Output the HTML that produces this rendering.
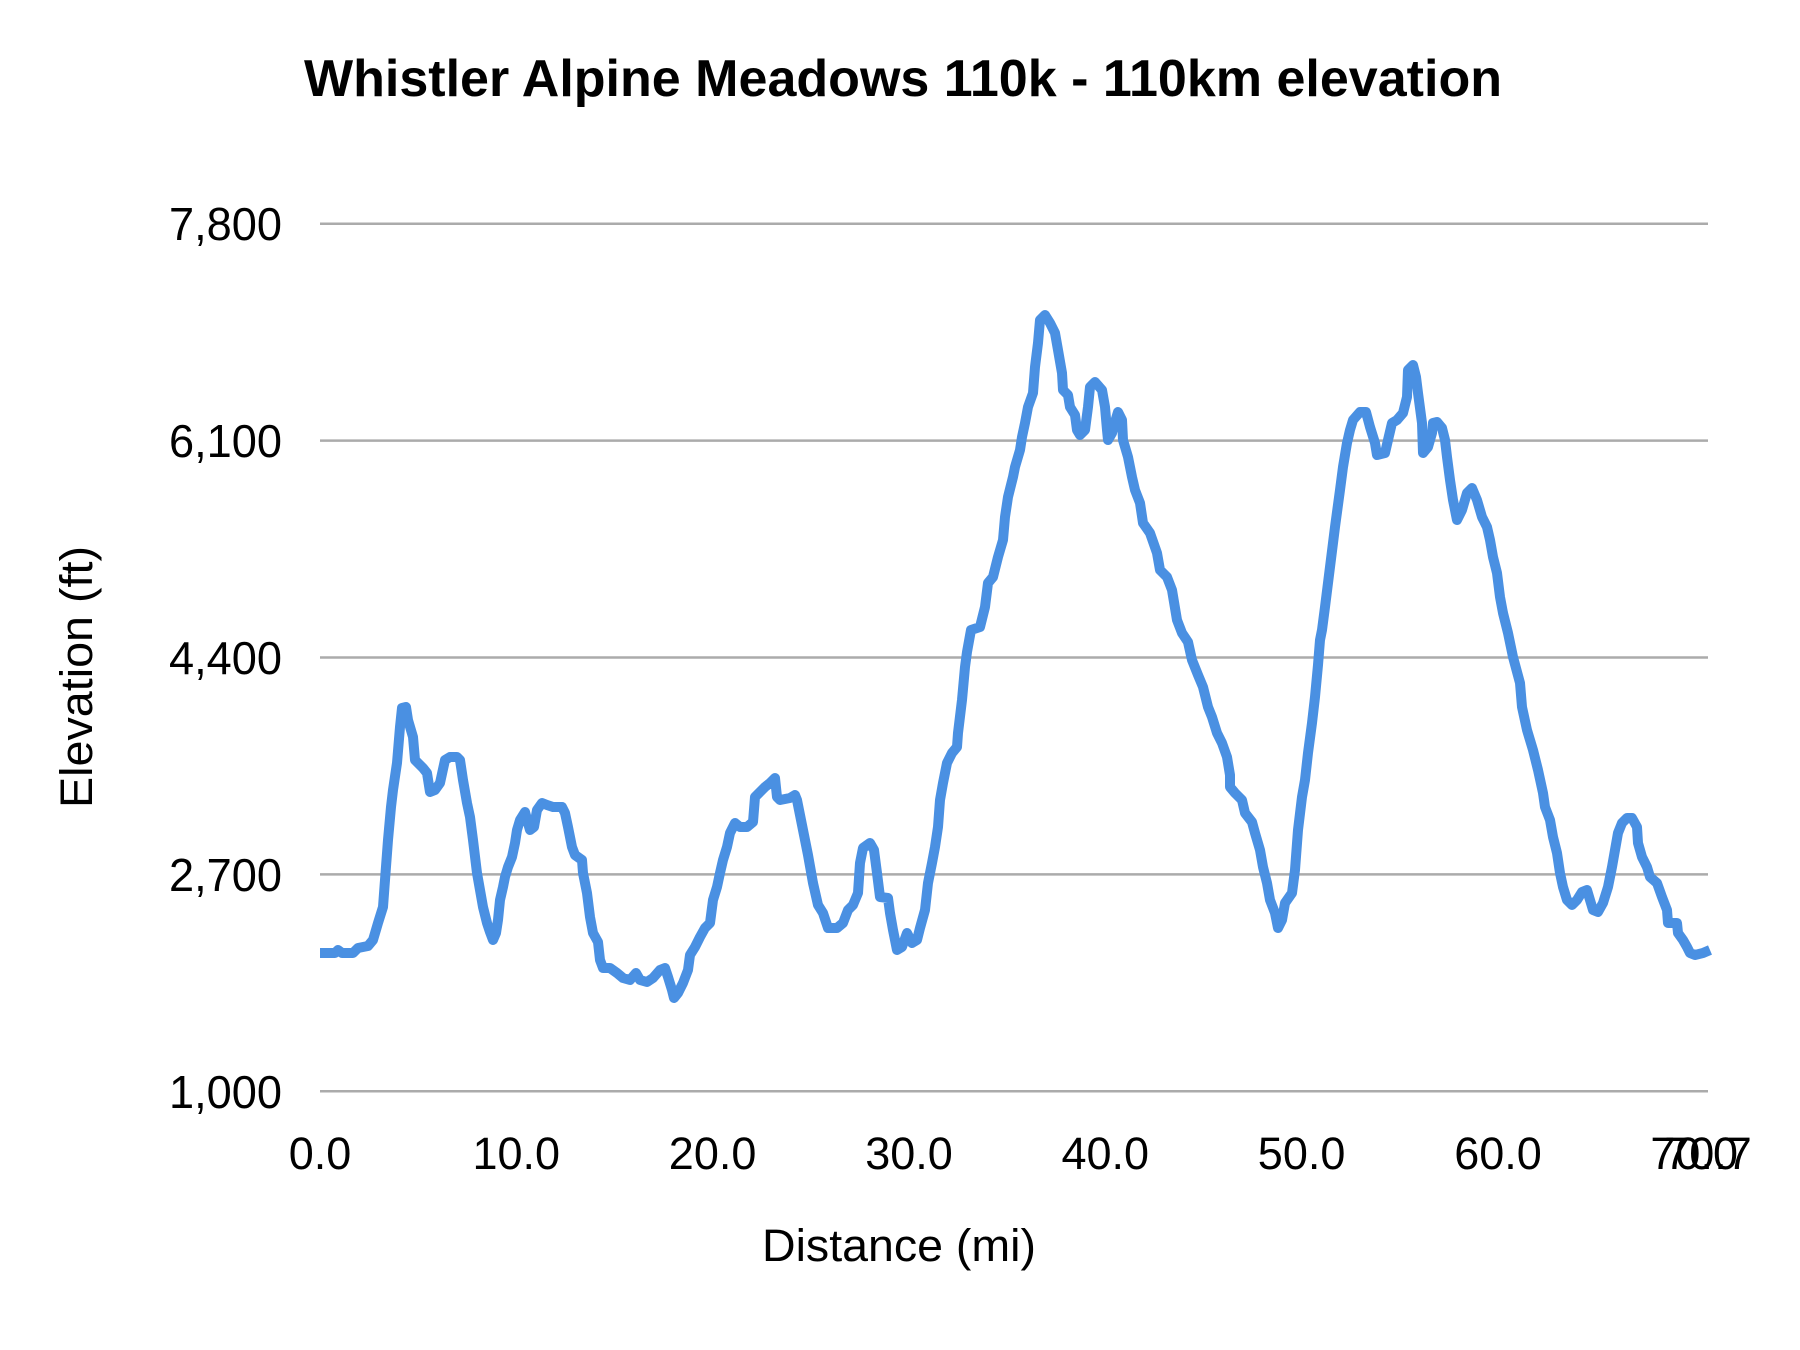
<!DOCTYPE html>
<html>
<head>
<meta charset="utf-8">
<style>
  html,body{margin:0;padding:0;background:#ffffff;}
  svg{display:block;}
  text{font-family:"Liberation Sans", Arial, sans-serif; fill:#000;}
</style>
</head>
<body>
<svg width="1800" height="1350" viewBox="0 0 1800 1350" xmlns="http://www.w3.org/2000/svg">
  <rect x="0" y="0" width="1800" height="1350" fill="#ffffff"/>

  <!-- Title -->
  <text x="903" y="96" text-anchor="middle" font-size="52" font-weight="bold" textLength="1198" lengthAdjust="spacingAndGlyphs">Whistler Alpine Meadows 110k - 110km elevation</text>

  <!-- Gridlines -->
  <g stroke="#ababab" stroke-width="2.5">
    <line x1="320" y1="223.7" x2="1708" y2="223.7"/>
    <line x1="320" y1="440.6" x2="1708" y2="440.6"/>
    <line x1="320" y1="657.5" x2="1708" y2="657.5"/>
    <line x1="320" y1="874.4" x2="1708" y2="874.4"/>
    <line x1="320" y1="1091.3" x2="1708" y2="1091.3"/>
  </g>

  <!-- Y tick labels -->
  <g font-size="46" text-anchor="end">
    <text x="282" y="240" textLength="113" lengthAdjust="spacingAndGlyphs">7,800</text>
    <text x="282" y="457" textLength="113" lengthAdjust="spacingAndGlyphs">6,100</text>
    <text x="282" y="674" textLength="113" lengthAdjust="spacingAndGlyphs">4,400</text>
    <text x="282" y="891" textLength="113" lengthAdjust="spacingAndGlyphs">2,700</text>
    <text x="282" y="1108" textLength="113" lengthAdjust="spacingAndGlyphs">1,000</text>
  </g>

  <!-- X tick labels -->
  <g font-size="45" text-anchor="middle">
    <text x="320" y="1169">0.0</text>
    <text x="516.3" y="1169">10.0</text>
    <text x="712.6" y="1169">20.0</text>
    <text x="909" y="1169">30.0</text>
    <text x="1105.3" y="1169">40.0</text>
    <text x="1301.6" y="1169">50.0</text>
    <text x="1498" y="1169">60.0</text>
    <text x="1694.2" y="1169">70.0</text>
    <text x="1708" y="1169">70.7</text>
  </g>

  <!-- Axis titles -->
  <text x="899" y="1261" font-size="45" text-anchor="middle" textLength="274" lengthAdjust="spacingAndGlyphs">Distance (mi)</text>
  <text transform="translate(92,677) rotate(-90)" x="0" y="0" font-size="45" text-anchor="middle" textLength="262" lengthAdjust="spacingAndGlyphs">Elevation (ft)</text>

  <!-- Elevation line -->
  <polyline fill="none" stroke="#4a90e2" stroke-width="10" stroke-linejoin="round" stroke-linecap="butt"
    points="
320,953 335,953 338,950 342,953 353,953 358,948 368,946 373,940 378,923 383,907 385,880 388,840 391,807 393,790 397,763 400,727 402,708 406,707 408,720 413,737 415,760 420,765 423,768 427,773 430,792 435,790 440,783 445,760 450,757 457,757 460,760 463,780 467,803 470,817 473,840 477,873 480,890 483,907 487,923 490,932 493,940 496,933 498,920 500,900 503,887 505,877 508,867 512,857 515,843 517,830 520,820 525,812 528,823 530,830 534,827 537,810 542,803 547,805 553,807 562,807 565,813 568,827 572,847 575,855 582,860 583,873 587,893 590,917 593,933 598,942 600,960 603,968 610,968 617,973 623,978 630,980 636,973 640,980 647,982 653,978 660,970 665,968 668,977 672,990 674,998 678,993 683,983 688,970 690,955 695,947 700,937 705,928 710,923 713,900 717,887 720,873 723,860 727,847 730,833 735,823 740,827 747,827 753,822 755,797 760,792 765,787 770,783 775,778 777,797 780,800 790,798 795,795 797,800 803,830 808,855 813,883 818,905 823,913 828,928 837,928 843,923 848,910 853,905 858,893 860,863 863,848 870,843 874,850 877,873 880,897 888,898 890,913 893,930 897,950 902,947 907,933 912,943 917,940 920,928 925,910 928,883 932,863 935,847 938,827 940,800 943,783 947,763 952,753 957,747 958,733 962,700 965,667 967,652 971,630 980,627 985,607 988,583 993,577 998,557 1003,540 1005,517 1008,497 1013,477 1015,467 1020,450 1022,437 1025,423 1028,407 1033,393 1035,367 1038,343 1040,320 1045,315 1050,323 1055,333 1058,350 1062,373 1063,390 1068,395 1070,407 1075,415 1077,430 1080,435 1085,430 1088,407 1090,387 1095,382 1102,390 1105,407 1107,430 1108,440 1112,433 1115,422 1118,412 1122,420 1123,440 1128,457 1132,477 1135,490 1140,503 1143,523 1150,533 1157,553 1160,570 1167,577 1172,590 1177,620 1182,633 1188,642 1192,660 1198,675 1203,687 1208,707 1212,717 1217,733 1222,743 1227,757 1230,775 1230,787 1235,793 1242,800 1245,813 1252,822 1255,833 1260,850 1263,867 1267,883 1270,900 1275,913 1278,928 1282,920 1285,903 1292,893 1295,870 1298,830 1302,797 1305,780 1308,753 1312,723 1315,697 1318,665 1320,640 1322,630 1325,607 1330,567 1335,527 1340,490 1343,467 1347,443 1350,430 1353,420 1360,412 1366,412 1370,427 1375,443 1377,455 1385,453 1388,440 1392,423 1397,420 1403,413 1407,397 1408,370 1413,365 1416,377 1418,393 1422,423 1423,453 1428,447 1432,433 1433,423 1437,422 1442,428 1445,440 1447,457 1450,480 1453,500 1457,520 1462,510 1467,493 1472,488 1477,500 1482,517 1487,527 1490,540 1493,557 1497,573 1500,597 1503,613 1508,633 1513,657 1520,683 1522,707 1527,730 1533,750 1538,770 1543,793 1545,807 1550,820 1553,837 1557,853 1560,873 1563,887 1567,900 1572,905 1577,900 1582,892 1587,890 1590,900 1593,910 1598,912 1603,903 1608,887 1612,867 1615,850 1618,833 1622,823 1627,818 1632,818 1637,827 1638,843 1642,857 1647,867 1650,877 1657,883 1662,897 1667,910 1668,923 1677,923 1678,933 1683,940 1687,947 1690,953 1695,955 1703,953 1710,950
  "/>
</svg>
</body>
</html>
